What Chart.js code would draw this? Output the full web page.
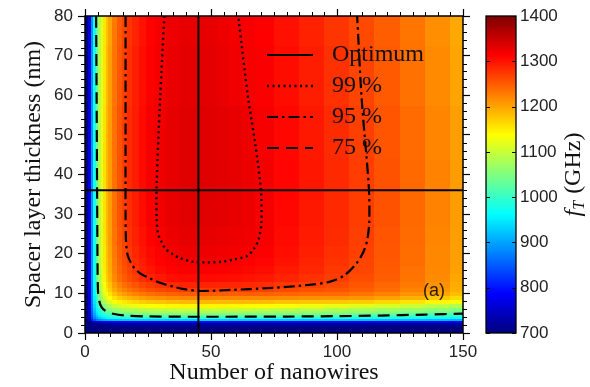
<!DOCTYPE html>
<html lang="en">
<head>
<meta charset="UTF-8">
<title>fT versus nanowires and spacer thickness</title>
<script src="https://cdn.jsdelivr.net/npm/chart.js"></script>
<style>
  html, body { margin: 0; padding: 0; background: #fff; }
  canvas { display: block; }
</style>
</head>
<body>
<canvas id="chart" width="590" height="387"></canvas>
<script>
// grid: columns = number of nanowires, rows = spacer thickness (nm)
const nanowires = [0, 1, 2, 3, 4, 5, 6, 7, 8, 9, 10, 12, 14, 16, 18, 20, 23, 26, 30, 35,
                   40, 45, 50, 55, 60, 65, 70, 80, 90, 100, 110, 120, 130, 140, 150];
const spacer = [0, 1, 2, 2.5, 3, 3.5, 4, 4.5, 5, 5.5, 6, 7, 8, 9, 10, 11, 12, 14, 16, 18, 20, 24, 30, 38, 50, 65, 80];

// fT as percent of the optimum, one row per spacer value
const fTPercent = [
  [39.8, 41.3, 42.8, 43.9, 44.3, 44.5, 44.6, 44.7, 44.7, 44.8, 44.8, 44.8, 44.8, 44.8, 44.9, 44.9, 44.9, 44.9, 44.9, 44.9, 44.9, 44.9, 44.9, 44.9, 44.9, 44.9, 44.9, 44.9, 44.9, 44.8, 44.8, 44.8, 44.8, 44.8, 44.8],
  [41.1, 42.9, 44.8, 46.4, 47.0, 47.2, 47.4, 47.5, 47.5, 47.6, 47.6, 47.7, 47.7, 47.7, 47.8, 47.8, 47.8, 47.8, 47.8, 47.8, 47.8, 47.8, 47.8, 47.8, 47.8, 47.8, 47.8, 47.8, 47.7, 47.7, 47.7, 47.7, 47.6, 47.6, 47.6],
  [42.8, 45.2, 48.0, 50.4, 51.4, 51.8, 52.1, 52.3, 52.5, 52.6, 52.6, 52.7, 52.8, 52.8, 52.8, 52.9, 52.9, 52.9, 52.9, 52.9, 52.9, 52.9, 52.9, 52.9, 52.9, 52.9, 52.9, 52.9, 52.8, 52.8, 52.7, 52.7, 52.6, 52.6, 52.6],
  [42.0, 44.5, 47.5, 50.5, 52.0, 52.6, 53.0, 53.3, 53.5, 53.6, 53.7, 53.8, 53.9, 54.0, 54.0, 54.0, 54.0, 54.0, 54.1, 54.1, 54.1, 54.1, 54.1, 54.1, 54.1, 54.1, 54.0, 54.0, 54.0, 53.9, 53.9, 53.8, 53.8, 53.7, 53.7],
  [43.5, 46.5, 50.0, 54.0, 56.0, 57.0, 57.6, 58.0, 58.3, 58.5, 58.6, 58.8, 58.9, 59.0, 59.1, 59.1, 59.2, 59.2, 59.2, 59.3, 59.3, 59.3, 59.3, 59.3, 59.2, 59.2, 59.2, 59.1, 59.1, 59.0, 58.9, 58.8, 58.7, 58.6, 58.5],
  [45.4, 49.1, 54.2, 60.1, 63.2, 64.9, 66.1, 66.9, 67.4, 67.9, 68.2, 68.6, 68.8, 69.0, 69.1, 69.2, 69.3, 69.4, 69.5, 69.5, 69.6, 69.6, 69.6, 69.6, 69.5, 69.5, 69.4, 69.3, 69.2, 69.1, 69.0, 68.8, 68.6, 68.5, 68.2],
  [45.7, 49.6, 55.1, 61.9, 65.7, 67.8, 69.3, 70.4, 71.2, 71.8, 72.2, 72.8, 73.2, 73.4, 73.6, 73.7, 73.9, 74.0, 74.1, 74.2, 74.3, 74.3, 74.3, 74.3, 74.2, 74.1, 74.1, 74.0, 73.8, 73.6, 73.4, 73.2, 72.9, 72.6, 72.2],
  [45.9, 49.8, 55.5, 62.7, 66.9, 69.3, 71.1, 72.3, 73.3, 73.9, 74.5, 75.1, 75.6, 75.9, 76.1, 76.3, 76.5, 76.7, 76.8, 76.9, 77.0, 77.0, 77.0, 76.9, 76.9, 76.8, 76.7, 76.6, 76.3, 76.1, 75.9, 75.6, 75.2, 74.9, 74.5],
  [46.0, 50.0, 55.8, 63.3, 67.8, 70.4, 72.4, 73.8, 74.8, 75.6, 76.2, 77.0, 77.5, 77.8, 78.1, 78.3, 78.6, 78.8, 78.9, 79.0, 79.1, 79.1, 79.1, 79.0, 79.0, 78.9, 78.9, 78.6, 78.4, 78.1, 77.8, 77.5, 77.1, 76.7, 76.2],
  [46.0, 50.1, 56.0, 63.8, 68.4, 71.2, 73.3, 74.9, 76.0, 76.9, 77.5, 78.4, 79.0, 79.3, 79.6, 79.9, 80.2, 80.4, 80.6, 80.7, 80.8, 80.8, 80.8, 80.7, 80.7, 80.6, 80.5, 80.3, 80.0, 79.7, 79.4, 79.0, 78.5, 78.0, 77.5],
  [46.1, 50.2, 56.2, 64.1, 69.0, 71.9, 74.2, 75.8, 77.1, 78.0, 78.8, 79.7, 80.3, 80.8, 81.1, 81.4, 81.7, 81.9, 82.1, 82.3, 82.4, 82.4, 82.4, 82.3, 82.2, 82.2, 82.1, 81.8, 81.5, 81.1, 80.8, 80.3, 79.9, 79.3, 78.8],
  [46.2, 50.3, 56.5, 64.8, 70.1, 73.3, 75.8, 77.7, 79.2, 80.3, 81.2, 82.3, 83.1, 83.6, 84.0, 84.4, 84.8, 85.1, 85.3, 85.5, 85.6, 85.7, 85.6, 85.6, 85.5, 85.4, 85.2, 84.9, 84.5, 84.1, 83.6, 83.1, 82.5, 81.8, 81.2],
  [46.2, 50.4, 56.7, 65.3, 70.9, 74.4, 77.3, 79.4, 81.1, 82.4, 83.4, 84.8, 85.7, 86.3, 86.8, 87.2, 87.7, 88.1, 88.3, 88.6, 88.8, 88.8, 88.8, 88.7, 88.7, 88.7, 88.6, 88.3, 88.1, 88.0, 87.7, 87.2, 86.5, 85.6, 84.8],
  [46.3, 50.5, 56.9, 65.7, 71.6, 75.3, 78.4, 80.7, 82.6, 84.0, 85.2, 86.7, 87.8, 88.5, 89.1, 89.6, 90.2, 90.6, 90.9, 91.2, 91.4, 91.4, 91.4, 91.3, 91.4, 91.3, 91.2, 91.1, 90.9, 90.9, 90.6, 90.0, 89.2, 88.2, 87.1],
  [46.3, 50.6, 57.0, 66.0, 72.1, 75.9, 79.2, 81.7, 83.8, 85.3, 86.6, 88.3, 89.5, 90.3, 90.9, 91.5, 92.1, 92.6, 93.0, 93.4, 93.6, 93.6, 93.6, 93.5, 93.5, 93.5, 93.4, 93.1, 92.9, 92.8, 92.4, 91.7, 90.8, 89.7, 88.5],
  [46.3, 50.6, 57.1, 66.2, 72.4, 76.4, 79.8, 82.5, 84.6, 86.3, 87.6, 89.5, 90.8, 91.7, 92.4, 93.0, 93.7, 94.3, 94.7, 95.1, 95.3, 95.3, 95.3, 95.2, 95.2, 95.2, 95.0, 94.6, 94.2, 94.0, 93.5, 92.7, 91.7, 90.5, 89.3],
  [46.3, 50.7, 57.1, 66.3, 72.6, 76.7, 80.2, 83.0, 85.2, 86.9, 88.3, 90.3, 91.6, 92.6, 93.3, 94.0, 94.7, 95.3, 95.8, 96.2, 96.5, 96.5, 96.5, 96.4, 96.3, 96.2, 96.0, 95.5, 95.0, 94.6, 93.9, 93.0, 92.0, 90.8, 89.5],
  [46.3, 50.7, 57.2, 66.5, 72.9, 77.1, 80.7, 83.5, 85.8, 87.7, 89.1, 91.2, 92.7, 93.6, 94.4, 95.1, 96.0, 96.6, 97.1, 97.6, 97.8, 97.8, 97.8, 97.7, 97.6, 97.4, 97.1, 96.5, 95.8, 95.2, 94.4, 93.5, 92.4, 91.1, 89.8],
  [46.3, 50.7, 57.2, 66.5, 73.0, 77.2, 80.9, 83.7, 86.1, 88.0, 89.5, 91.6, 93.1, 94.1, 94.9, 95.7, 96.6, 97.2, 97.8, 98.2, 98.5, 98.5, 98.5, 98.4, 98.2, 98.0, 97.7, 97.0, 96.3, 95.5, 94.7, 93.7, 92.5, 91.3, 90.0],
  [46.3, 50.7, 57.2, 66.6, 73.0, 77.3, 81.0, 83.9, 86.3, 88.2, 89.7, 91.9, 93.4, 94.5, 95.3, 96.0, 96.9, 97.6, 98.2, 98.7, 98.9, 98.9, 98.9, 98.8, 98.6, 98.4, 98.1, 97.4, 96.5, 95.7, 94.8, 93.8, 92.7, 91.4, 90.1],
  [46.3, 50.7, 57.2, 66.6, 73.1, 77.4, 81.1, 84.0, 86.4, 88.4, 89.9, 92.1, 93.6, 94.7, 95.5, 96.3, 97.2, 97.9, 98.4, 98.9, 99.2, 99.2, 99.2, 99.1, 98.9, 98.6, 98.3, 97.6, 96.7, 95.9, 95.0, 93.9, 92.7, 91.4, 90.1],
  [46.3, 50.7, 57.2, 66.6, 73.1, 77.5, 81.2, 84.2, 86.6, 88.5, 90.1, 92.3, 93.9, 94.9, 95.8, 96.6, 97.5, 98.2, 98.8, 99.3, 99.6, 99.6, 99.6, 99.4, 99.2, 99.0, 98.6, 97.8, 97.0, 96.1, 95.1, 94.0, 92.8, 91.5, 90.2],
  [46.3, 50.7, 57.2, 66.7, 73.2, 77.5, 81.3, 84.2, 86.7, 88.7, 90.2, 92.5, 94.1, 95.1, 96.0, 96.8, 97.7, 98.5, 99.0, 99.5, 99.8, 99.9, 99.8, 99.7, 99.5, 99.2, 98.8, 98.0, 97.1, 96.2, 95.2, 94.1, 92.9, 91.6, 90.3],
  [46.4, 50.7, 57.2, 66.7, 73.2, 77.5, 81.3, 84.3, 86.7, 88.7, 90.3, 92.5, 94.1, 95.2, 96.1, 96.9, 97.8, 98.6, 99.1, 99.6, 99.9, 100.0, 99.9, 99.8, 99.6, 99.3, 98.9, 98.1, 97.2, 96.2, 95.2, 94.1, 92.9, 91.6, 90.3],
  [46.4, 50.7, 57.2, 66.7, 73.2, 77.5, 81.3, 84.3, 86.7, 88.7, 90.3, 92.5, 94.1, 95.2, 96.1, 96.9, 97.8, 98.6, 99.1, 99.6, 99.9, 100.0, 99.9, 99.7, 99.5, 99.2, 98.8, 98.0, 97.1, 96.1, 95.1, 94.0, 92.8, 91.5, 90.2],
  [46.3, 50.6, 57.1, 66.6, 73.1, 77.3, 81.1, 84.1, 86.5, 88.5, 90.1, 92.3, 93.9, 95.0, 95.9, 96.7, 97.6, 98.4, 98.9, 99.4, 99.7, 99.8, 99.7, 99.4, 99.1, 98.8, 98.5, 97.7, 96.8, 95.8, 94.8, 93.7, 92.5, 91.2, 89.9],
  [46.2, 50.5, 57.0, 66.4, 72.9, 77.2, 81.0, 84.0, 86.4, 88.3, 89.9, 92.1, 93.7, 94.8, 95.7, 96.5, 97.4, 98.2, 98.7, 99.2, 99.5, 99.6, 99.5, 99.2, 98.9, 98.6, 98.3, 97.5, 96.6, 95.6, 94.6, 93.5, 92.3, 91.0, 89.7]
];
const fTMax = 1335; // GHz at the optimum

// optimum point
const optimumN = 45;
const optimumT = 36;

// contour lines (percent of optimum)
const n99 = [31.5, 29.8, 28.4, 28.4, 29.0, 30.5, 32.4, 35.0, 37.7, 42.7, 48.5, 54.3, 59.5, 64.2, 67.0, 68.8, 70.0, 69.8, 67.5, 64.8, 60.8];
const t99 = [80, 59, 36.6, 29, 25.2, 22.8, 21.0, 19.8, 18.9, 18.0, 17.8, 18.0, 18.6, 19.4, 21.2, 23.5, 27.7, 36, 48, 59, 80];
const n95 = [16.1, 16.1, 16.1, 16.3, 17.0, 19.2, 22.0, 25.8, 30, 35, 40, 46, 59, 72, 85, 97, 103, 107.8, 110.5, 112.0, 112.8, 112.6, 109.8, 108.0];
const t95 = [80, 50, 30, 23, 19.5, 16.7, 15.0, 13.8, 12.6, 11.7, 11.0, 10.6, 10.9, 11.3, 11.9, 12.9, 14.6, 17.6, 20.5, 23.5, 28, 37, 59, 80];
const n75 = [4.4, 4.6, 4.8, 5.0, 5.2, 5.6, 6.5, 8.3, 11.2, 16, 24, 45, 80, 100, 117, 135, 150];
const t75 = [80, 60, 36, 15, 10, 8.2, 6.6, 5.5, 4.85, 4.4, 4.2, 4.1, 4.15, 4.25, 4.4, 4.65, 4.9];

const legendLabels = ['Optimum', '99 %', '95 %', '75 %'];
const colorTicks = [700, 800, 900, 1000, 1100, 1200, 1300, 1400];

const serif = 'Liberation Serif';
const sans = 'Liberation Sans';

function jet(v) {
  v = Math.max(0, Math.min(1, v));
  const c = k => Math.round(255 * Math.max(0, Math.min(1, k)));
  return 'rgb(' + c(1.5 - Math.abs(4 * v - 3)) + ',' + c(1.5 - Math.abs(4 * v - 2)) + ',' + c(1.5 - Math.abs(4 * v - 1)) + ')';
}
function colorFor(f) {
  return jet((f - colorTicks[0]) / (colorTicks[colorTicks.length - 1] - colorTicks[0]));
}
// cell borders half way between grid values
function edges(vals, lo, hi) {
  const e = [lo];
  for (let i = 1; i < vals.length; i++) e.push((vals[i - 1] + vals[i]) / 2);
  e.push(hi);
  return e;
}
const pts = (ns, ts) => ns.map((n, i) => ({ x: n, y: ts[i] }));

const lineStyles = [
  { borderDash: [], borderWidth: 2 },
  { borderDash: [2, 3.5], borderWidth: 2.4 },
  { borderDash: [11, 4, 2.5, 4], borderWidth: 2.2 },
  { borderDash: [12, 7], borderWidth: 2.2 }
];

const mapPlugin = {
  id: 'fTMap',
  beforeDatasetsDraw(chart) {
    const { ctx, scales: { x, y } } = chart;
    const nEdges = edges(nanowires, x.min, x.max);
    const tEdges = edges(spacer, y.min, y.max);
    ctx.save();
    spacer.forEach((t, j) => {
      const yTop = Math.floor(y.getPixelForValue(tEdges[j + 1]));
      const yBot = Math.ceil(y.getPixelForValue(tEdges[j]));
      nanowires.forEach((n, i) => {
        const x0 = Math.floor(x.getPixelForValue(nEdges[i]));
        const x1 = Math.ceil(x.getPixelForValue(nEdges[i + 1]));
        ctx.fillStyle = colorFor(fTPercent[j][i] / 100 * fTMax);
        ctx.fillRect(x0, yTop, x1 - x0, yBot - yTop);
      });
    });
    ctx.restore();
  },
  afterDatasetsDraw(chart) {
    const { ctx, chartArea: a, scales: { x, y, cbar } } = chart;
    ctx.save();
    // frame and minor ticks
    ctx.strokeStyle = '#000';
    ctx.lineWidth = 1.5;
    ctx.strokeRect(a.left, a.top, a.right - a.left, a.bottom - a.top);
    ctx.lineWidth = 1;
    ctx.beginPath();
    for (let v = 5; v < 150; v += 5) {
      if (v % 50 === 0) continue;
      const px = Math.round(x.getPixelForValue(v)) + 0.5;
      ctx.moveTo(px, a.bottom); ctx.lineTo(px, a.bottom + 4);
      ctx.moveTo(px, a.top); ctx.lineTo(px, a.top - 4);
    }
    for (let v = 2; v < 80; v += 2) {
      if (v % 10 === 0) continue;
      const py = Math.round(y.getPixelForValue(v)) + 0.5;
      ctx.moveTo(a.left, py); ctx.lineTo(a.left - 4, py);
      ctx.moveTo(a.right, py); ctx.lineTo(a.right + 4, py);
    }
    ctx.stroke();

    // colour bar
    const cbR = cbar.left, cbL = cbR - 30;
    const cbTop = Math.round(cbar.getPixelForValue(cbar.max));
    const cbBot = Math.round(cbar.getPixelForValue(cbar.min));
    for (let py = cbTop; py < cbBot; py++) {
      ctx.fillStyle = colorFor(cbar.getValueForPixel(py + 0.5));
      ctx.fillRect(cbL, py, cbR - cbL, 1);
    }
    ctx.lineWidth = 1.3;
    ctx.strokeRect(cbL, cbTop, cbR - cbL, cbBot - cbTop);
    ctx.lineWidth = 1;
    ctx.beginPath();
    colorTicks.forEach(v => {
      const py = Math.round(cbar.getPixelForValue(v)) + 0.5;
      ctx.moveTo(cbL, py); ctx.lineTo(cbL + 4, py);
      ctx.moveTo(cbR, py); ctx.lineTo(cbR - 4, py);
    });
    ctx.stroke();

    // colour bar title, reading upwards
    ctx.translate(574, (a.top + a.bottom) / 2);
    ctx.rotate(-Math.PI / 2);
    ctx.fillStyle = '#111';
    ctx.textBaseline = 'middle';
    const fBig = 'italic 24px "' + serif + '"';
    const fSub = 'italic 16px "' + serif + '"';
    const fRest = '24px "' + serif + '"';
    ctx.font = fBig; const w1 = ctx.measureText('f').width;
    ctx.font = fSub; const w2 = ctx.measureText('T').width;
    ctx.font = fRest; const w3 = ctx.measureText(' (GHz)').width;
    let cx = -(w1 + w2 + 1 + w3) / 2;
    ctx.font = fBig; ctx.fillText('f', cx, 0); cx += w1;
    ctx.font = fSub; ctx.fillText('T', cx, 6); cx += w2 + 1;
    ctx.font = fRest; ctx.fillText(' (GHz)', cx, 0);
    ctx.setTransform(1, 0, 0, 1, 0, 0);

    // legend inside the map
    const rows = [55, 86, 117, 148];
    legendLabels.forEach((label, i) => {
      const st = lineStyles[i];
      ctx.strokeStyle = '#000';
      ctx.lineWidth = st.borderWidth;
      ctx.setLineDash(st.borderDash);
      ctx.beginPath();
      ctx.moveTo(267, rows[i]); ctx.lineTo(313, rows[i]);
      ctx.stroke();
      ctx.setLineDash([]);
      ctx.fillStyle = '#111';
      ctx.font = '24px "' + serif + '"';
      ctx.textBaseline = 'middle';
      ctx.textAlign = 'left';
      ctx.fillText(label, 332, rows[i]);
    });

    ctx.font = '18px "' + sans + '"';
    ctx.fillStyle = '#2a1a08';
    ctx.textAlign = 'center';
    ctx.fillText('(a)', 434, 291);
    ctx.restore();
  }
};

const mkLine = (data, i) => Object.assign({
  data: data,
  showLine: true,
  borderColor: '#000',
  pointRadius: 0,
  tension: 0.3,
  fill: false
}, lineStyles[i]);

const tickFont = { family: sans, size: 17 };
const frameGrid = { drawOnChartArea: false, tickLength: 7, color: '#000', tickWidth: 1.2 };

new Chart(document.getElementById('chart'), {
  type: 'scatter',
  data: {
    datasets: [
      mkLine(pts([optimumN, optimumN], [0, 80]), 0),
      mkLine(pts([0, 150], [optimumT, optimumT]), 0),
      mkLine(pts(n99, t99), 1),
      mkLine(pts(n95, t95), 2),
      mkLine(pts(n75, t75), 3)
    ]
  },
  options: {
    responsive: false,
    animation: false,
    devicePixelRatio: 1,
    layout: { padding: 0 },
    plugins: { legend: { display: false }, tooltip: { enabled: false } },
    scales: {
      x: {
        type: 'linear', position: 'bottom', min: 0, max: 150,
        ticks: { stepSize: 50, font: tickFont, color: '#222', padding: 2, maxRotation: 0 },
        grid: frameGrid, border: { display: false },
        title: { display: true, text: 'Number of nanowires', font: { family: serif, size: 24 }, color: '#111', padding: 0 },
        afterFit: s => { s.height = 54; }
      },
      xTop: {
        type: 'linear', position: 'top', min: 0, max: 150,
        ticks: { stepSize: 50, display: false },
        grid: frameGrid, border: { display: false },
        afterFit: s => { s.height = 16; }
      },
      y: {
        type: 'linear', position: 'left', min: 0, max: 80,
        ticks: { stepSize: 10, font: tickFont, color: '#222', padding: 5 },
        grid: frameGrid, border: { display: false },
        title: { display: true, text: 'Spacer layer thickness (nm)', font: { family: serif, size: 24 }, color: '#111', padding: { top: 19, bottom: 0 } },
        afterFit: s => { s.width = 85; }
      },
      yRight: {
        type: 'linear', position: 'right', min: 0, max: 80, weight: 1,
        ticks: { stepSize: 10, display: false },
        grid: frameGrid, border: { display: false },
        afterFit: s => { s.width = 53; }
      },
      cbar: {
        type: 'linear', axis: 'y', position: 'right', min: 700, max: 1400, weight: 10,
        ticks: { stepSize: 100, font: tickFont, color: '#222', padding: 4, callback: v => String(v) },
        grid: { display: false, drawTicks: false }, border: { display: false },
        afterFit: s => { s.width = 74; }
      }
    }
  },
  plugins: [mapPlugin]
});
</script>
</body>
</html>
